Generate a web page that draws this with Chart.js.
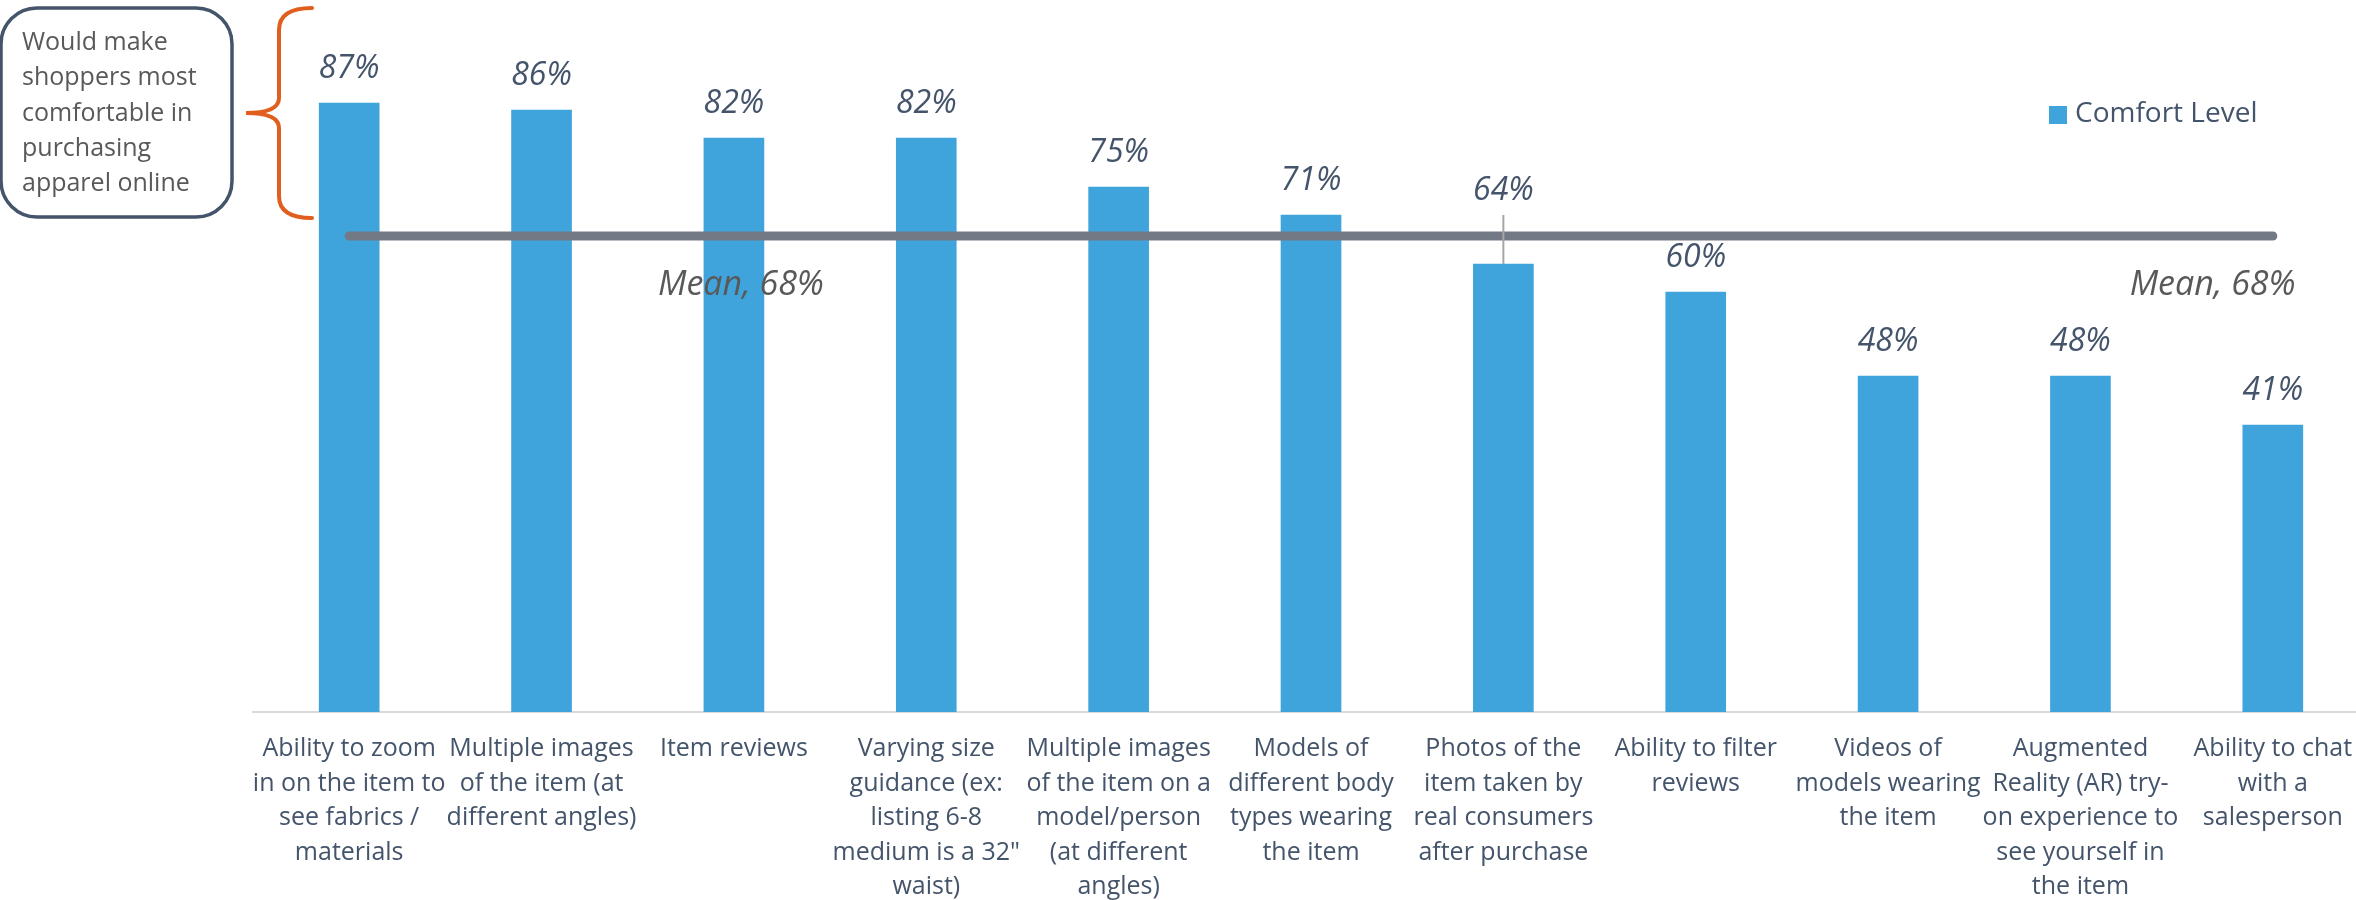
<!DOCTYPE html>
<html lang="en">
  <head>
    <meta charset="UTF-8">
    <title>Comfort Level</title>
    <script src="https://cdn.jsdelivr.net/npm/chart.js@4.4.7/dist/chart.umd.min.js"></script>
    <style>
    html, body {
      margin: 0;
      padding: 0;
      background: #fff;
      overflow: hidden;
    }
    #wrap {
      position: relative;
      width: 2380px;
      height: 900px;
    }
    </style>
  </head>
  <body>
    <div id="wrap"><canvas id="comfortChart"></canvas></div>
    <script>
    const categories = [
      ['Ability to zoom', 'in on the item to', 'see fabrics /', 'materials'],
      ['Multiple images', 'of the item (at', 'different angles)'],
      ['Item reviews'],
      ['Varying size', 'guidance (ex:', 'listing 6-8', 'medium is a 32"', 'waist)'],
      ['Multiple images', 'of the item on a', 'model/person', '(at different', 'angles)'],
      ['Models of', 'different body', 'types wearing', 'the item'],
      ['Photos of the', 'item taken by', 'real consumers', 'after purchase'],
      ['Ability to filter', 'reviews'],
      ['Videos of', 'models wearing', 'the item'],
      ['Augmented', 'Reality (AR) try-', 'on experience to', 'see yourself in', 'the item'],
      ['Ability to chat', 'with a', 'salesperson']
    ];
    const comfortLevel = [87, 86, 82, 82, 75, 71, 64, 60, 48, 48, 41];
    const meanLevel = [68, 68, 68, 68, 68, 68, 68, 68, 68, 68, 68];
    const meanText = 'Mean, 68%';
    const noteLines = ['Would make', 'shoppers most', 'comfortable in', 'purchasing', 'apparel online'];

    const textBlue = '#44546a';
    const barBlue = '#40a4dc';

    // labels, legend, callout box and bracket drawn on top of the chart
    const extras = {
      id: 'extras',
      afterDatasetsDraw(chart) {
        const { ctx, scales } = chart;
        const x = scales.x, y = scales.y;
        ctx.save();

        // value labels
        const bars = chart.getDatasetMeta(1).data;
        ctx.font = 'italic 32px "Open Sans"';
        ctx.fillStyle = textBlue;
        ctx.textAlign = 'center';
        ctx.textBaseline = 'middle';
        bars.forEach((bar, i) => {
          let ly = bar.y - 34;
          if (i === 6) {
            ly = bar.y - 73;
            ctx.strokeStyle = '#a6a6a6';
            ctx.lineWidth = 2;
            ctx.beginPath();
            ctx.moveTo(bar.x, ly + 24);
            ctx.lineTo(bar.x, bar.y);
            ctx.stroke();
          }
          ctx.fillText(comfortLevel[i] + '%', bar.x, ly);
        });

        // mean labels
        const my = y.getPixelForValue(meanLevel[0]) + 49;
        ctx.font = 'italic 34px "Open Sans"';
        ctx.fillStyle = '#595959';
        ctx.fillText(meanText, x.getPixelForValue(2) + 7, my);
        ctx.fillText(meanText, (x.getPixelForValue(9) + x.getPixelForValue(10)) / 2 + 36, my);

        // legend
        const ds = chart.data.datasets[1];
        ctx.fillStyle = ds.backgroundColor;
        ctx.fillRect(2049, 106, 18, 18);
        ctx.font = '28px "Open Sans"';
        ctx.fillStyle = textBlue;
        ctx.textAlign = 'left';
        ctx.fillText(ds.label, 2075, 114);

        // callout box
        ctx.strokeStyle = '#44546a';
        ctx.lineWidth = 3.5;
        ctx.beginPath();
        ctx.roundRect(1, 8, 231, 209, 36);
        ctx.stroke();
        ctx.font = '25px "Open Sans"';
        ctx.fillStyle = '#595959';
        noteLines.forEach((line, i) => ctx.fillText(line, 22, 43 + i * 35.3));

        // bracket
        ctx.strokeStyle = '#e05e1e';
        ctx.lineWidth = 4;
        ctx.lineCap = 'round';
        ctx.beginPath();
        ctx.moveTo(312, 8);
        ctx.quadraticCurveTo(279, 8, 279, 30);
        ctx.lineTo(279, 98);
        ctx.quadraticCurveTo(279, 113, 246, 113);
        ctx.quadraticCurveTo(279, 113, 279, 128);
        ctx.lineTo(279, 196);
        ctx.quadraticCurveTo(279, 218, 312, 218);
        ctx.stroke();

        ctx.restore();
      }
    };

    const ctx = document.getElementById('comfortChart').getContext('2d');
    const comfortChart = new Chart(ctx, {
      type: 'bar',
      data: {
        labels: categories,
        datasets: [
          {
            type: 'line',
            label: 'Mean',
            data: meanLevel,
            borderColor: '#747a85',
            borderWidth: 9,
            borderCapStyle: 'round',
            pointRadius: 0,
            fill: false,
            order: 0
          },
          {
            label: 'Comfort Level',
            data: comfortLevel,
            backgroundColor: barBlue,
            barThickness: 60,
            order: 1
          }
        ]
      },
      options: {
        responsive: true,
        maintainAspectRatio: false,
        animation: false,
        layout: {
          padding: { left: 253, right: 11, top: 12, bottom: 0 }
        },
        plugins: {
          legend: { display: false },
          tooltip: { enabled: false }
        },
        scales: {
          x: {
            grid: { display: false, drawTicks: false },
            border: { display: true, color: '#d9d9d9', width: 2 },
            ticks: {
              color: textBlue,
              font: { family: 'Open Sans', size: 25, lineHeight: 1.38 },
              padding: 20,
              maxRotation: 0,
              autoSkip: false
            },
            afterFit(scale) {
              scale.height = 188;
            }
          },
          y: {
            display: false,
            min: 0,
            max: 100
          }
        }
      },
      plugins: [extras]
    });
    </script>
  </body>
</html>
